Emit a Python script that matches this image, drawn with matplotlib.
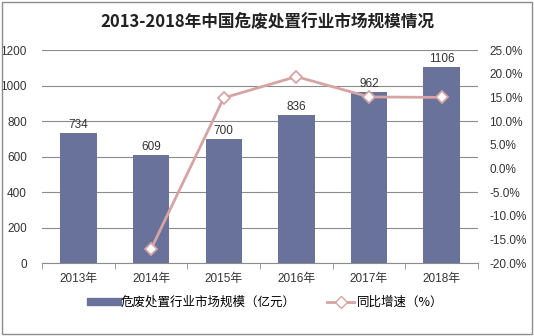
import matplotlib
matplotlib.use("Agg")
import matplotlib.pyplot as plt
from matplotlib.lines import Line2D
import numpy as np

plt.rcParams["font.family"] = ["Liberation Sans", "Noto Sans CJK SC"]

years = ["2013年", "2014年", "2015年", "2016年", "2017年", "2018年"]
scale = [734, 609, 700, 836, 962, 1106]
growth_years = [1, 2, 3, 4, 5]
growth = [-17.0, 14.9, 19.4, 15.1, 15.0]

BAR = "#68729a"; LINE = "#d6a4a4"; GRID = "#8c8c8c"; TXT = "#333333"

fig = plt.figure(figsize=(5.34, 3.36), dpi=100)
ax = fig.add_axes([0.079, 0.217, 0.816, 0.634])
x = np.arange(len(years))
ax.bar(x, scale, width=0.5, color=BAR, zorder=2)
for xi, v in zip(x, scale):
    ax.text(xi, v + 12, str(v), ha="center", va="bottom", fontsize=8.5, color=TXT)
ax.set_ylim(0, 1200)
ax.set_yticks(range(0, 1201, 200))
ax.set_xlim(-0.5, 5.5)
ax.set_xticks(x)
ax.set_xticklabels(years, fontsize=8.5, color=TXT)
ax.set_xticks(np.arange(-0.5, 6, 1), minor=True)
ax.tick_params(axis="x", which="major", length=0, pad=7)
ax.tick_params(axis="x", which="minor", length=4, color=GRID)
ax.tick_params(axis="y", length=0, labelsize=8.5, labelcolor=TXT, pad=11)
ax.grid(axis="y", color=GRID, lw=0.8, zorder=0)
for s in ["top", "right", "left"]:
    ax.spines[s].set_visible(False)
ax.spines["bottom"].set_color(GRID)

ax2 = ax.twinx()
ax2.plot(growth_years, growth, color=LINE, lw=2, marker="D", ms=6,
         mfc="white", mec=LINE, mew=1.3, zorder=3)
ax2.set_ylim(-20, 25)
ax2.set_yticks(range(-20, 26, 5))
ax2.set_yticklabels([f"{t:.1f}%" for t in range(-20, 26, 5)])
ax2.tick_params(axis="y", length=0, labelsize=8.5, labelcolor=TXT, pad=8)
for s in ["top", "right", "left", "bottom"]:
    ax2.spines[s].set_visible(False)

fig.text(0.5, 0.935, "2013-2018年中国危废处置行业市场规模情况", ha="center", va="center",
         fontsize=12, fontweight="bold", color="#222222",
         family=["Noto Sans CJK SC", "DejaVu Sans"])

handles = [Line2D([0], [0], color=BAR, lw=6),
           Line2D([0], [0], color=LINE, lw=2, marker="D", ms=6, mfc="white", mec=LINE)]
fig.legend(handles, ["危废处置行业市场规模（亿元）", "同比增速（%）"], loc="center",
           bbox_to_anchor=(0.5, 0.1), ncol=2, frameon=False,
           prop={"family": ["Noto Sans CJK SC", "DejaVu Sans"], "size": 9},
           handlelength=2.2, columnspacing=2.5, handletextpad=0.2)

fig.add_artist(plt.Rectangle((0.004, 0.006), 0.992, 0.988, transform=fig.transFigure,
                             fill=False, ec="#8c8c8c", lw=1))
fig.savefig("out.png", dpi=100)
